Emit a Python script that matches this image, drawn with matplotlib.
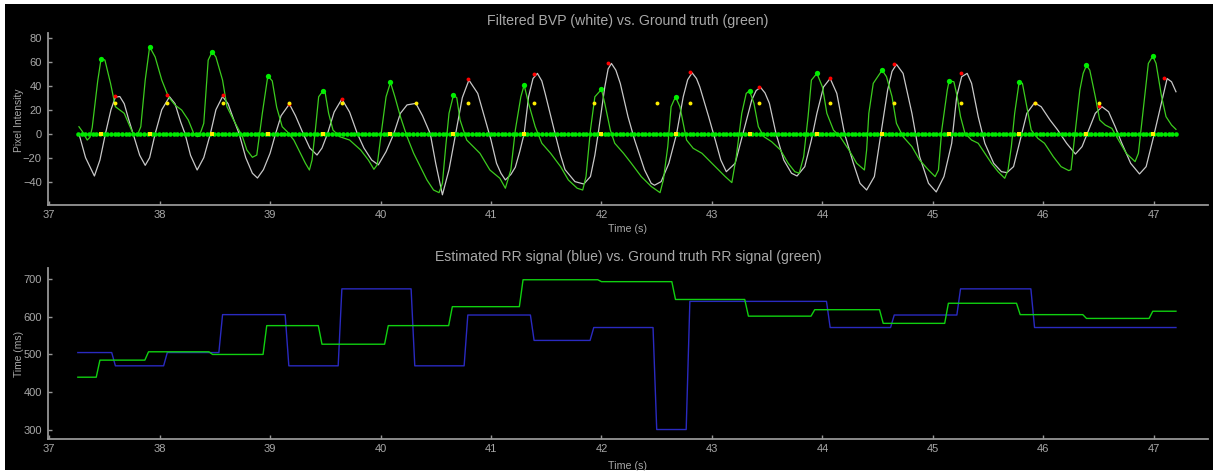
import numpy as np
import matplotlib
matplotlib.use("Agg")
import matplotlib.pyplot as plt
from matplotlib.patches import Rectangle

plt.rcParams['font.family'] = ['Liberation Sans', 'DejaVu Sans']

# ---------------- data: top chart ----------------
bvp_t = [37.27, 37.33, 37.41, 37.46, 37.51, 37.56, 37.60, 37.64, 37.68, 37.72, 37.76, 37.82, 37.87, 37.91,
         37.96, 38.02, 38.09, 38.14, 38.19, 38.23, 38.28, 38.34, 38.40, 38.46, 38.51, 38.57, 38.62, 38.67,
         38.72, 38.78, 38.84, 38.886, 38.94, 39.00, 39.05, 39.10, 39.175, 39.23, 39.30, 39.36, 39.425, 39.47,
         39.52, 39.58, 39.65, 39.72, 39.79, 39.85, 39.92, 39.98, 40.05, 40.12, 40.18, 40.24, 40.32, 40.38,
         40.45, 40.50, 40.56, 40.62, 40.68, 40.74, 40.80, 40.88, 40.94, 41.00, 41.05, 41.09, 41.13, 41.18,
         41.22, 41.26, 41.30, 41.34, 41.38, 41.42, 41.46, 41.49, 41.54, 41.58, 41.63, 41.67, 41.76, 41.84,
         41.90, 41.94, 41.97, 42.03, 42.06, 42.09, 42.13, 42.17, 42.24, 42.30, 42.39, 42.45, 42.48, 42.54,
         42.61, 42.68, 42.74, 42.78, 42.82, 42.86, 42.89, 42.97, 43.03, 43.08, 43.13, 43.21, 43.28, 43.36,
         43.40, 43.44, 43.48, 43.52, 43.58, 43.65, 43.72, 43.77, 43.84, 43.90, 43.95, 44.01, 44.07, 44.13,
         44.20, 44.28, 44.34, 44.40, 44.47, 44.53, 44.59, 44.63, 44.67, 44.73, 44.81, 44.88, 44.96, 45.03,
         45.10, 45.17, 45.215, 45.26, 45.31, 45.35, 45.41, 45.47, 45.55, 45.62, 45.67, 45.73, 45.79, 45.85,
         45.92, 45.98, 46.06, 46.13, 46.21, 46.29, 46.35, 46.41, 46.47, 46.53, 46.59, 46.65, 46.71, 46.79,
         46.87, 46.93, 46.99, 47.06, 47.12, 47.16, 47.20]
bvp_v = [0, -20, -35.3, -22, 0, 20, 30.5, 31, 25, 12, 0, -18, -26.4, -20,
         0, 20, 30.8, 25, 10, 0, -18, -30.3, -20, 0, 20, 31, 25, 12,
         0, -20, -33, -37, -30, -16.4, 0, 15, 24.7, 15, 0, -12, -17.8, -12,
         0, 18, 28.9, 18, 0, -12, -22, -26, -15, 0, 17, 24, 25.3, 15,
         0, -25, -51, -30, 0, 30, 44.7, 33.6, 14, -5.3, -24.7, -33, -38.6, -34,
         -28, -15, 0, 30.8, 46, 50.3, 44, 33.6, 15, 0, -18, -30, -40, -42,
         -35.8, -18, 0, 39, 54, 58.6, 53, 42, 14.2, -5.3, -30.3, -41.4, -43, -40,
         -24.7, 0, 30.8, 45, 50.8, 46, 39, 14.2, -5.3, -22, -31.7, -24.7, 0, 28,
         36, 38.6, 34, 25.3, 0, -22, -33, -35.3, -27.5, -5.3, 17, 39, 46.1, 33.6,
         0, -24.7, -41.4, -47, -35.8, 0, 36.4, 52, 57.8, 50.3, 17, -19.2, -41.4, -48.6,
         -35.8, -8, 30.8, 47.5, 50.3, 42, 14.2, -8, -24.7, -31.7, -32.5, -27.5, -5.3, 17,
         25.8, 22.5, 11.4, 3, -8, -17, -10.8, 3, 17, 22.5, 18.3, 5.8, -8, -24.7,
         -33.6, -27.5, -5.3, 22.5, 46, 43.3, 35]

gt_t = [37.27, 37.30, 37.345, 37.37, 37.39, 37.44, 37.47, 37.505, 37.556, 37.60, 37.68, 37.72, 37.76, 37.80,
        37.83, 37.87, 37.91, 37.96, 38.02, 38.08, 38.14, 38.20, 38.26, 38.31, 38.34, 38.36, 38.40, 38.44,
        38.476, 38.51, 38.57, 38.61, 38.67, 38.75, 38.79, 38.84, 38.88, 38.93, 38.98, 39.02, 39.06, 39.11,
        39.155, 39.215, 39.275, 39.32, 39.356, 39.38, 39.41, 39.44, 39.48, 39.50, 39.53, 39.57, 39.63, 39.72,
        39.82, 39.89, 39.94, 39.97, 40.01, 40.05, 40.09, 40.13, 40.18, 40.24, 40.30, 40.36, 40.42, 40.48,
        40.53, 40.56, 40.59, 40.62, 40.66, 40.69, 40.72, 40.78, 40.84, 40.90, 40.99, 41.08, 41.13, 41.18,
        41.22, 41.27, 41.30, 41.34, 41.40, 41.46, 41.54, 41.63, 41.70, 41.78, 41.83, 41.86, 41.90, 41.94,
        42.00, 42.03, 42.08, 42.12, 42.20, 42.27, 42.36, 42.45, 42.53, 42.56, 42.60, 42.63, 42.67, 42.71,
        42.77, 42.83, 42.91, 43.00, 43.12, 43.18, 43.22, 43.27, 43.31, 43.34, 43.38, 43.42, 43.47, 43.54,
        43.62, 43.69, 43.75, 43.79, 43.83, 43.87, 43.90, 43.95, 44.00, 44.04, 44.10, 44.16, 44.24, 44.31,
        44.38, 44.40, 44.42, 44.46, 44.50, 44.54, 44.58, 44.63, 44.67, 44.73, 44.81, 44.88, 44.96, 45.02,
        45.05, 45.08, 45.13, 45.147, 45.19, 45.22, 45.25, 45.29, 45.35, 45.41, 45.47, 45.53, 45.59, 45.65,
        45.68, 45.71, 45.74, 45.78, 45.81, 45.85, 45.89, 45.95, 46.01, 46.09, 46.16, 46.23, 46.25, 46.29,
        46.33, 46.36, 46.39, 46.42, 46.47, 46.51, 46.56, 46.62, 46.68, 46.75, 46.83, 46.86, 46.90, 46.95,
        46.99, 47.02, 47.07, 47.11, 47.16, 47.20]
gt_v = [5.8, 2, -5.3, -3, 5, 44, 62.2, 61.5, 42, 22.5, 17, 8.6, 0, -1,
        5.8, 44.7, 72.5, 64, 44.7, 30.8, 23.9, 19.7, 11.4, 0, -2.5, -2, 8.6, 61.4,
        68.3, 64, 44.7, 22.5, 11.4, -2.5, -13.6, -19.7, -17.8, 17, 48.3, 44, 22, 5.8,
        1.7, -5.3, -16.4, -24.7, -30.3, -22, 3, 30.8, 35.8, 33.6, 17, 3, -2.5, -5.3,
        -13.6, -22, -29.7, -26, 3, 30.8, 42.8, 30.8, 14.2, -2.5, -16.4, -27.5, -38.6, -47,
        -49.2, -41.4, -10.8, 17, 32.2, 30, 11.4, -5.3, -10.8, -16.4, -30.3, -37.2, -45.5, -30,
        3, 30.8, 40.5, 25.3, 5.8, -8, -16.4, -27.5, -38.6, -45.5, -47, -35.8, 3, 30.8,
        37, 25.3, 3, -8, -16.4, -24.7, -35.8, -44, -49.2, -38.6, -10.8, 22.5, 30.8, 22.5,
        -5.3, -12.2, -16.4, -24.7, -35.8, -40.8, -19.2, 17, 33.6, 35.8, 25.3, 5.8, -2.5, -6.7,
        -13.6, -24.7, -31.7, -33, -19.2, 14.2, 44.7, 50.3, 39, 17, 3, -2.5, -13.6, -24.7,
        -30.3, -13.6, 17, 42, 47.5, 53, 47.5, 30.8, 8.6, -2.5, -10.8, -22, -30.3, -35.8,
        -30.3, 3, 36.4, 44.2, 43.3, 30.8, 14.2, 0.3, -5.3, -8, -16.4, -24.7, -31.7, -37.2,
        -30.3, -10.8, 17, 42.8, 42, 22.5, 3, -3.9, -8, -19.2, -27.5, -30.8, -30, 3,
        36.4, 50.3, 57, 53, 30.8, 11.4, 7.2, 4.4, -5.3, -16.4, -23.3, -16.4, 17, 58.6,
        64.7, 58.6, 30.8, 14.2, 7.2, 3.6]

# ground-truth peaks (big green dots), also marked in yellow on the zero line
gt_peak_t = [37.47, 37.91, 38.476, 38.98, 39.48, 40.09, 40.66, 41.30, 42.00, 42.67, 43.34, 43.95,
             44.54, 45.147, 45.78, 46.39, 46.99]
gt_peak_v = [62.2, 72.5, 68.3, 48.3, 35.8, 42.8, 32.2, 40.5, 37, 30.8, 35.8, 50.3, 53, 44.2, 42.8, 57, 64.7]

# detected BVP peaks (red)
bvp_peak_t = [37.60, 38.07, 38.57, 39.17, 39.65, 40.79, 41.39, 42.06, 42.80, 43.43, 44.07, 44.65,
              45.25, 45.92, 46.50, 47.09]
bvp_peak_v = [31.4, 32.3, 32.0, 24.5, 29.2, 45.3, 50.0, 58.9, 51.4, 38.6, 46.1, 58.0, 50.3, 25.8, 23.0, 46.7]

# estimated beats (yellow, fixed height)
beat_t = [37.60, 38.07, 38.57, 39.17, 39.65, 40.32, 40.79, 41.39, 41.93, 42.50, 42.80, 43.43, 44.07,
          44.65, 45.25, 45.92, 46.50]
beat_level = 25.3

# frame timeline (green dots on zero line)
frame_start, frame_end, n_frames = 37.26, 47.20, 299

# ---------------- data: bottom chart ----------------
rr_est_t = [37.26, 37.60, 38.07, 38.57, 39.17, 39.65, 40.31, 40.79, 41.39, 41.93, 42.50, 42.80,
            44.07, 44.65, 45.25, 45.92]
rr_est_v = [505, 470, 505, 605, 470, 673, 470, 604, 537, 571, 302, 640, 571, 604, 673, 571]
rr_gt_t = [37.26, 37.46, 37.90, 38.48, 38.97, 39.47, 40.07, 40.65, 41.29, 42.00, 42.67, 43.33,
           43.93, 44.55, 45.14, 45.79, 46.39, 46.99]
rr_gt_v = [440, 485, 507, 500, 576, 527, 576, 626, 697, 692, 645, 601, 618, 582, 635, 605, 595, 614]
rr_end = 47.20

# ---------------- figure ----------------
W, H = 1213, 474
fig = plt.figure(figsize=(W / 100, H / 100), dpi=100)
fig.patch.set_facecolor('white')
fig.add_artist(Rectangle((5 / W, 4 / H), (W - 5) / W, (H - 8) / H, transform=fig.transFigure,
                         facecolor='black', edgecolor='none', zorder=-10))

AX_COL = '#969696'
TXT_COL = '#a8a8a8'


def px_axes(x0, y0, x1, y1):
    return fig.add_axes([x0 / W, 1 - y1 / H, (x1 - x0) / W, (y1 - y0) / H])


def style(ax):
    ax.set_facecolor('black')
    for s in ('top', 'right'):
        ax.spines[s].set_visible(False)
    for s in ('left', 'bottom'):
        ax.spines[s].set_color(AX_COL)
        ax.spines[s].set_linewidth(1.3)
    ax.tick_params(colors=AX_COL, labelcolor=TXT_COL, labelsize=8, direction='in', length=3, width=1)
    ax.tick_params(axis='x', pad=3.5)
    ax.tick_params(axis='y', pad=4.5)


def step_line(times, values, end, dt=1 / 30):
    xs, ys = [times[0]], [values[0]]
    for i in range(1, len(times)):
        xs += [times[i] - dt, times[i]]
        ys += [values[i - 1], values[i]]
    xs.append(end)
    ys.append(values[-1])
    return xs, ys


# top
ax1 = px_axes(48, 33, 1208, 205)
style(ax1)
ax1.plot(bvp_t, bvp_v, color='#c8c8c8', lw=0.9, zorder=2)
ax1.plot(gt_t, gt_v, color='#3ccc1e', lw=0.9, zorder=3)
frames = np.linspace(frame_start, frame_end, n_frames)
ax1.plot(frames, np.zeros_like(frames), 'o', color='#00e800', ms=3.3, mew=0, zorder=4)
ax1.plot(gt_peak_t, np.zeros(len(gt_peak_t)), 's', color='#ffee00', ms=2.2, mew=0, zorder=5)
ax1.plot(gt_peak_t, gt_peak_v, 'o', color='#00ee00', ms=3.8, mew=0, zorder=5)
ax1.plot(bvp_peak_t, bvp_peak_v, 'o', color='#ff0000', ms=2.8, mew=0, zorder=6)
ax1.plot(beat_t, [beat_level] * len(beat_t), 'o', color='#ffee00', ms=2.8, mew=0, zorder=7)
ax1.set_xlim(36.99, 47.49)
ax1.set_ylim(-59.5, 84)
ax1.set_xticks(range(37, 48))
ax1.set_yticks([-40, -20, 0, 20, 40, 60, 80])

# bottom
ax2 = px_axes(48, 268, 1208, 439)
style(ax2)
xs, ys = step_line(rr_est_t, rr_est_v, rr_end)
ax2.plot(xs, ys, color='#2a2ac0', lw=1.0)
xs, ys = step_line(rr_gt_t, rr_gt_v, rr_end)
ax2.plot(xs, ys, color='#10d010', lw=1.0)
ax2.set_xlim(36.99, 47.49)
ax2.set_ylim(277, 728)
ax2.set_xticks(range(37, 48))
ax2.set_yticks([300, 400, 500, 600, 700])

# texts
fig.text(628 / W, 1 - 21 / H, 'Filtered BVP (white) vs. Ground truth (green)', color=TXT_COL,
         fontsize=10.2, ha='center', va='center')
fig.text(628 / W, 1 - 257 / H, 'Estimated RR signal (blue) vs. Ground truth RR signal (green)',
         color=TXT_COL, fontsize=10.1, ha='center', va='center')
fig.text(628 / W, 1 - 229 / H, 'Time (s)', color=TXT_COL, fontsize=7.7, ha='center', va='center')
fig.text(628 / W, 1 - 466 / H, 'Time (s)', color=TXT_COL, fontsize=7.7, ha='center', va='center')
fig.text(19 / W, 1 - 120 / H, 'Pixel Intensity', color=TXT_COL, fontsize=7.4, ha='center', va='center',
         rotation=90)
fig.text(19 / W, 1 - 354 / H, 'Time (ms)', color=TXT_COL, fontsize=7.4, ha='center', va='center',
         rotation=90)

fig.savefig('out.png', dpi=100, facecolor=fig.get_facecolor())
